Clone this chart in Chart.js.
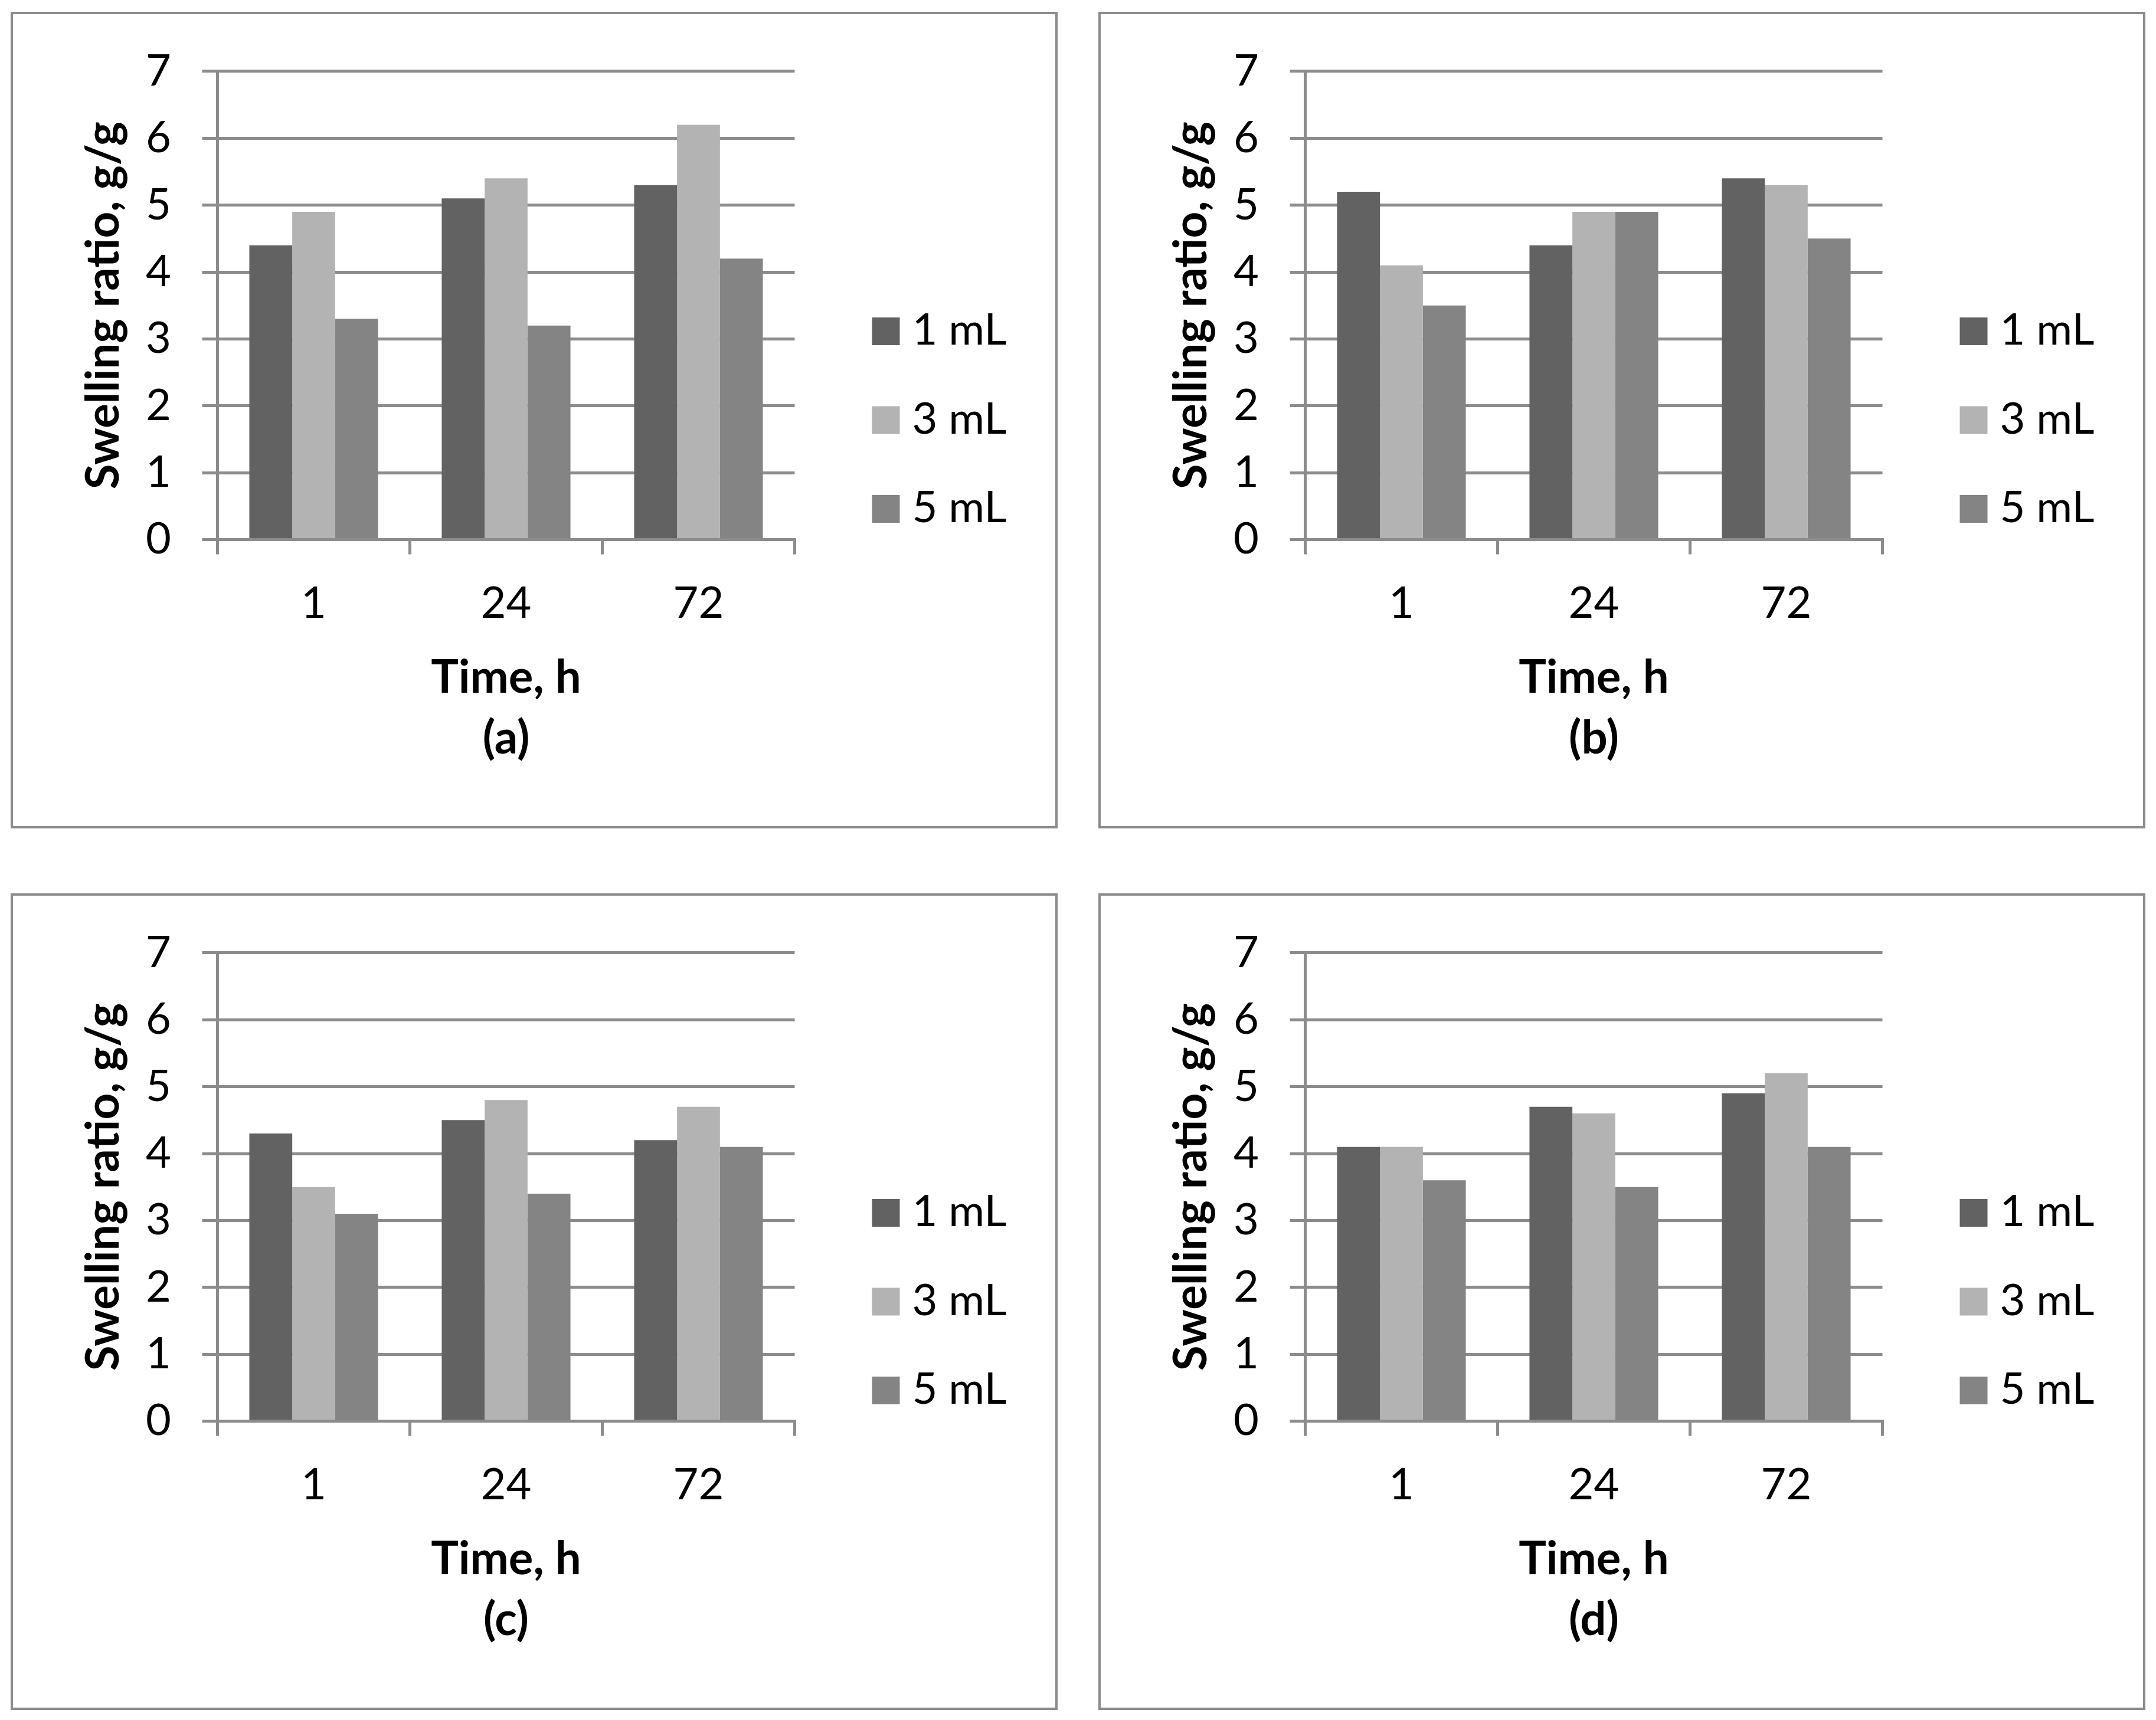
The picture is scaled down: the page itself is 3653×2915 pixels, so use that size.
<!DOCTYPE html>
<html>
<head>
<meta charset="utf-8">
<title>Swelling ratio</title>
<script src="https://cdn.jsdelivr.net/npm/chart.js@4.4.1/dist/chart.umd.min.js"></script>
<style>
    html, body {
        margin: 0;
        padding: 0;
        background: #ffffff;
        width: 3653px;
        height: 2915px;
        overflow: hidden;
    }
    .panel {
        position: absolute;
        box-sizing: border-box;
        width: 1774px;
        height: 1384px;
        border: 4px solid #8c8c8c;
        background: #ffffff;
    }
    .panel canvas {
        display: block;
    }
</style>
</head>
<body>
<div class="panel" style="left: 18px; top: 20px;"><canvas id="chartA" width="1766" height="1376"></canvas></div>
<div class="panel" style="left: 1861px; top: 20px;"><canvas id="chartB" width="1766" height="1376"></canvas></div>
<div class="panel" style="left: 18px; top: 1514px;"><canvas id="chartC" width="1766" height="1376"></canvas></div>
<div class="panel" style="left: 1861px; top: 1514px;"><canvas id="chartD" width="1766" height="1376"></canvas></div>

<script>
// Categories and series names
const timeLabels = ['1', '24', '72'];
const seriesNames = ['1 mL', '3 mL', '5 mL'];
const panelLetters = ['(a)', '(b)', '(c)', '(d)'];

// Swelling ratio (g/g)
const a1mL = [4.4, 5.1, 5.3];
const a3mL = [4.9, 5.4, 6.2];
const a5mL = [3.3, 3.2, 4.2];

const b1mL = [5.2, 4.4, 5.4];
const b3mL = [4.1, 4.9, 5.3];
const b5mL = [3.5, 4.9, 4.5];

const c1mL = [4.3, 4.5, 4.2];
const c3mL = [3.5, 4.8, 4.7];
const c5mL = [3.1, 3.4, 4.1];

const d1mL = [4.1, 4.7, 4.9];
const d3mL = [4.1, 4.6, 5.2];
const d5mL = [3.6, 3.5, 4.1];

const seriesColors = ['#626262', '#b3b3b3', '#848484'];
const lineGray = '#8c8c8c';

Chart.defaults.font.family = 'Lato, "Open Sans", sans-serif';
Chart.defaults.color = '#000000';

// Excel-style legend on the right, drawn next to the plot area
const sideLegend = {
    id: 'sideLegend',
    afterDraw(chart) {
        const ctx = chart.ctx;
        const area = chart.chartArea;
        const boxSize = 47;
        const step = 150.5;
        const boxLeft = area.right + 131;
        const midY = chart.height / 2;
        const n = chart.data.datasets.length;
        ctx.save();
        ctx.font = '74px ' + Chart.defaults.font.family;
        ctx.textAlign = 'left';
        ctx.textBaseline = 'middle';
        chart.data.datasets.forEach((ds, i) => {
            const cy = midY + (i - (n - 1) / 2) * step;
            ctx.fillStyle = ds.backgroundColor;
            ctx.fillRect(boxLeft, cy - boxSize / 2, boxSize, boxSize);
            ctx.fillStyle = '#000000';
            ctx.fillText(ds.label, boxLeft + boxSize + 21, cy - 1);
        });
        ctx.restore();
    }
};

function makeChart(canvasId, letter, values) {
    const ctx = document.getElementById(canvasId).getContext('2d');
    return new Chart(ctx, {
        type: 'bar',
        data: {
            labels: timeLabels,
            datasets: values.map((v, i) => ({
                label: seriesNames[i],
                data: v,
                backgroundColor: seriesColors[i],
                borderWidth: 0,
                categoryPercentage: 0.669,
                barPercentage: 1.0
            }))
        },
        options: {
            responsive: false,
            animation: false,
            devicePixelRatio: 1,
            layout: {
                padding: { top: 90.5, bottom: 96.5, left: 0, right: 441.5 }
            },
            plugins: {
                legend: { display: false },
                tooltip: { enabled: false }
            },
            scales: {
                x: {
                    grid: {
                        display: true,
                        offset: true,
                        drawOnChartArea: false,
                        drawTicks: true,
                        tickLength: 25,
                        color: lineGray,
                        lineWidth: 5
                    },
                    border: { display: true, color: lineGray, width: 5 },
                    ticks: {
                        font: { size: 74 },
                        color: '#000000',
                        padding: 39.5
                    },
                    title: {
                        display: true,
                        text: ['Time, h', letter],
                        font: { size: 78, weight: 'bold', lineHeight: 103 / 78 },
                        color: '#000000',
                        padding: { top: 0, bottom: 0 }
                    },
                    afterFit: (scale) => { scale.height = 389; }
                },
                y: {
                    min: 0,
                    max: 7,
                    ticks: {
                        stepSize: 1,
                        font: { size: 74 },
                        color: '#000000',
                        padding: 52.5
                    },
                    grid: {
                        color: lineGray,
                        lineWidth: 5,
                        drawTicks: true,
                        tickLength: 26
                    },
                    border: { display: true, color: lineGray, width: 5 },
                    title: {
                        display: true,
                        text: 'Swelling ratio, g/g',
                        font: { size: 78, weight: 'bold' },
                        color: '#000000',
                        padding: { top: 107, bottom: 0 }
                    },
                    afterFit: (scale) => { scale.width = 346.5; }
                }
            }
        },
        plugins: [sideLegend]
    });
}

makeChart('chartA', panelLetters[0], [a1mL, a3mL, a5mL]);
makeChart('chartB', panelLetters[1], [b1mL, b3mL, b5mL]);
makeChart('chartC', panelLetters[2], [c1mL, c3mL, c5mL]);
makeChart('chartD', panelLetters[3], [d1mL, d3mL, d5mL]);
</script>
</body>
</html>
